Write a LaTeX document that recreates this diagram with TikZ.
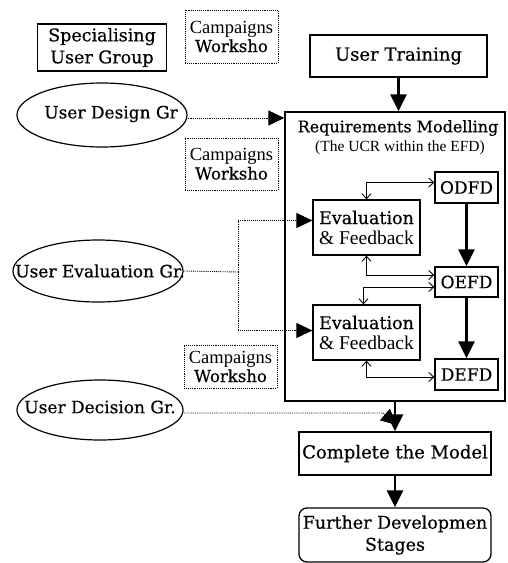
\documentclass[tikz,border=0pt]{standalone}
\usepackage{fontspec}
\setmainfont{Liberation Serif}
\newfontfamily\wide[FakeBold=0.5]{DejaVu Serif}
\usetikzlibrary{arrows.meta,shapes.geometric}
\begin{document}
\begin{tikzpicture}[x=1pt,y=-1pt,
  box/.style={draw, line width=1.3pt, inner sep=0pt, align=center},
  cbox/.style={draw, densely dotted, line width=0.9pt, inner sep=0pt, align=center, minimum width=93pt},
  grp/.style={draw, ellipse, line width=1.2pt, inner sep=0pt},
  wtxt/.style={font=\wide\fontsize{17.5}{22}\selectfont, align=center},
  ctxt/.style={font=\fontsize{18.5}{19}\selectfont},
  etxt/.style={font=\fontsize{19.5}{20}\selectfont},
  flow/.style={line width=2.6pt, -{Triangle[length=17pt,width=16pt]}},
  link/.style={densely dotted, line width=0.9pt, -{Triangle[length=16pt,width=15pt]}},
  fb/.style={line width=0.9pt, {Straight Barb[length=5pt,width=9pt]}-{Straight Barb[length=5pt,width=9pt]}}]
\useasboundingbox (0,0) rectangle (507,563);

% left column
\node[box, wtxt, minimum width=129pt, minimum height=47pt] (spec) at (102,47.5) {Specialising\\User Group};
\node[grp, minimum width=170pt, minimum height=64pt] (udes) at (102,115) {};
\node[wtxt, font=\wide\fontsize{17}{22}\selectfont] at (111,114) {User Design Gr};
\node[grp, minimum width=170pt, minimum height=62pt] (ueval) at (98,271) {};
\node[wtxt, font=\wide\fontsize{17}{22}\selectfont] at (100,271) {User Evaluation Gr.};
\node[grp, minimum width=166pt, minimum height=60pt] (udec) at (100,410) {};
\node[wtxt, font=\wide\fontsize{17}{22}\selectfont] at (100,407) {User Decision Gr.};

% campaigns boxes
\node[cbox, ctxt, minimum height=53pt] (camp1) at (231.5,36.5) {Campaigns\\{\wide\fontsize{16.5}{19}\selectfont Worksho}};
\node[cbox, ctxt, minimum height=52pt] (camp2) at (231.5,164) {Campaigns\\{\wide\fontsize{16.5}{19}\selectfont Worksho}};
\node[cbox, ctxt, minimum height=43pt] (camp3) at (230.5,366.5) {Campaigns\\{\wide\fontsize{16.5}{19}\selectfont Worksho}};

% right column
\node[box, wtxt, font=\wide\fontsize{18}{22}\selectfont, minimum width=177pt, minimum height=42pt] (ut) at (398.5,56) {User Training};
\node[box, minimum width=220pt, minimum height=289pt] (big) at (395,256.5) {};
\node[font=\wide\fontsize{16}{20}\selectfont] (title) at (398,128) {Requirements Modelling};
\node[font=\fontsize{15.5}{20}\selectfont] (sub) at (400,148) {(The UCR within the EFD)};

\node[box, etxt, minimum width=107pt, minimum height=55pt] (e1) at (366.5,227.5)
  {{\wide\fontsize{17.5}{20}\selectfont Evaluation}\\\& Feedback};
\node[box, etxt, minimum width=107pt, minimum height=55pt] (e2) at (366.5,332.5)
  {{\wide\fontsize{17.5}{20}\selectfont Evaluation}\\\& Feedback};
\node[box, wtxt, font=\wide\fontsize{17}{22}\selectfont, minimum width=63pt, minimum height=31pt] (odfd) at (466.5,187.5) {ODFD};
\node[box, wtxt, font=\wide\fontsize{17}{22}\selectfont, minimum width=63pt, minimum height=30pt] (oefd) at (466.5,282) {OEFD};
\node[box, wtxt, font=\wide\fontsize{17}{22}\selectfont, minimum width=63pt, minimum height=31pt] (defd) at (466.5,374.5) {DEFD};

\node[box, wtxt, font=\wide\fontsize{18}{22}\selectfont, minimum width=192pt, minimum height=43pt] (cm) at (395,453.5) {Complete the Model};
\node[box, wtxt, rounded corners=8pt, minimum width=192pt, minimum height=54pt] (fd) at (395,535) {Further Developmen\\Stages};

% connectors
\draw[flow] (ut.south) -- (ut.south |- big.north);
\draw[link] ([yshift=-3pt]udes.east) -- ([yshift=-3pt]udes.east -| big.west);
\coordinate (split) at (238,272);
\draw[densely dotted, line width=0.9pt] (ueval.east) -- (split);
\draw[link] (split) |- ([yshift=7pt]e1.west);
\draw[link] (split) |- ([yshift=2pt]e2.west);

\draw[fb] (e1.north) |- ([yshift=5pt]odfd.west);
\draw[fb] (e1.south) |- ([yshift=7pt]oefd.west);
\draw[fb] ([xshift=-3pt]e2.north) |- ([yshift=-5pt]oefd.west);
\draw[fb] (e2.south) |- ([yshift=-2.5pt]defd.west);
\draw[flow] (odfd) -- (oefd);
\draw[flow] (oefd) -- (defd);

\draw[flow] (cm.north |- big.south) -- (cm.north);
\coordinate (k) at (383,413);
\coordinate (j) at (397,425);
\draw[link] ([yshift=-3pt]udec.east) -- (k) -- (j);
\draw[flow] (cm) -- (fd);
\end{tikzpicture}
\end{document}
